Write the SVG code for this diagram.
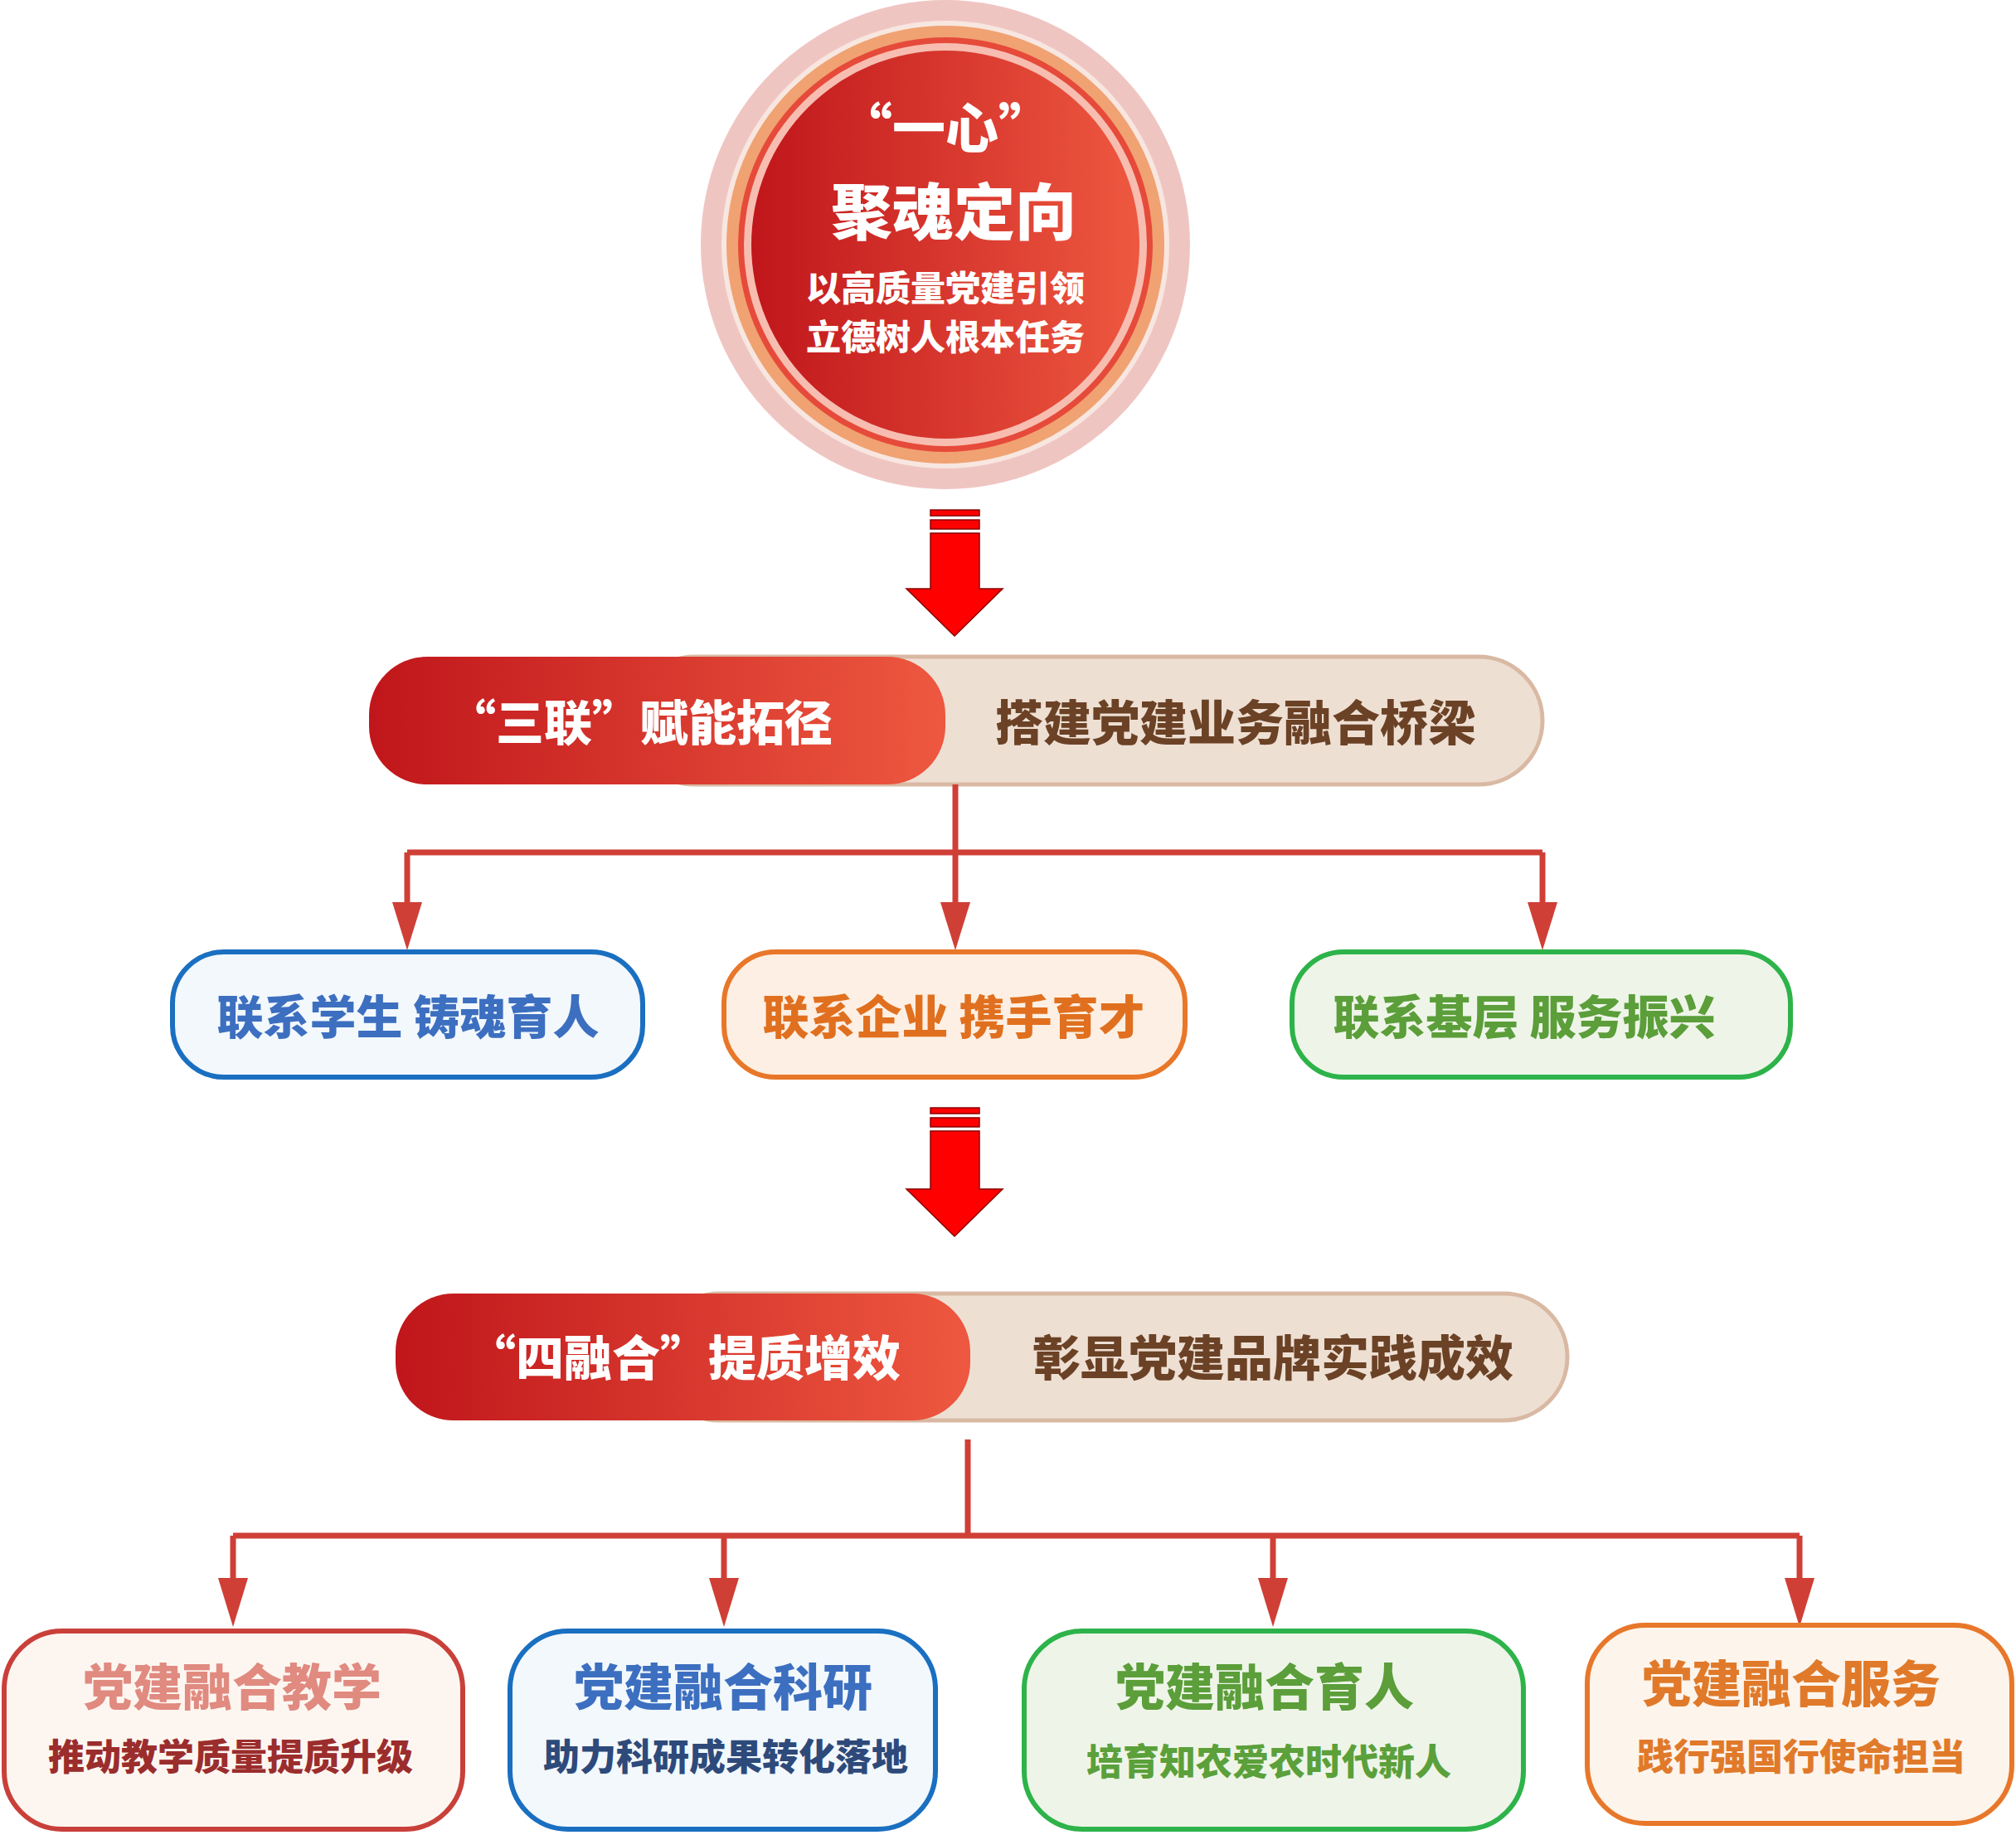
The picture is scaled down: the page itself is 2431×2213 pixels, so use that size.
<svg xmlns="http://www.w3.org/2000/svg" width="2431" height="2213" viewBox="0 0 2431 2213">
<defs>
<linearGradient id="rg" x1="0" y1="0" x2="1" y2="0"><stop offset="0" stop-color="#C0161B"/><stop offset="1" stop-color="#EE5840"/></linearGradient>
</defs>
<style>
text{font-family:"Noto Sans CJK SC","Noto Sans",sans-serif;font-weight:900;text-anchor:middle;dominant-baseline:central}
.w{fill:#fff}.br{fill:#6B4226;font-size:58px}
.con{stroke:#CF3F36;stroke-width:7;fill:none}
.hd{fill:#CF3F36}
.big{fill:#FF0000;stroke:#8B0000;stroke-width:1.5}
</style>
<rect width="2431" height="2213" fill="#fff"/>
<g id="core">
<circle cx="1140" cy="295" r="295" fill="#EFC5C2"/>
<circle cx="1140" cy="295" r="270" fill="#F8E6E0"/>
<circle cx="1140" cy="295" r="264" fill="#F0A272"/>
<circle cx="1140" cy="295" r="250" fill="#E64A3A"/>
<circle cx="1140" cy="295" r="243" fill="#F7BDB0"/>
<circle cx="1140" cy="295" r="234" fill="url(#rg)"/>
<text x="1140" y="150" class="w" font-size="64">“一心”</text>
<text x="1150" y="250" class="w" font-size="74">聚魂定向</text>
<text x="1140" y="344" class="w" font-size="42">以高质量党建引领</text>
<text x="1140" y="403" class="w" font-size="42">立德树人根本任务</text>
</g>
<g id="arrow1">
<rect x="1122" y="615" width="59" height="7" class="big"/>
<rect x="1122" y="627" width="59" height="11" class="big"/>
<polygon points="1122,643 1181,643 1181,710 1209,710 1151,767 1093,710 1122,710" class="big"/>
</g>
<g id="banner1">
<rect x="760" y="792" width="1100" height="154" rx="77" fill="#EEDFD3" stroke="#D9B9A3" stroke-width="5"/>
<rect x="445" y="792" width="695" height="154" rx="70" fill="url(#rg)"/>
<text x="772" y="868" class="w" font-size="58">“三联”赋能拓径</text>
<text x="1490" y="868" class="br">搭建党建业务融合桥梁</text>
</g>
<g id="arrow2">
<rect x="1122" y="1336" width="59" height="7" class="big"/>
<rect x="1122" y="1348" width="59" height="11" class="big"/>
<polygon points="1122,1364 1181,1364 1181,1434 1209,1434 1151,1491 1093,1434 1122,1434" class="big"/>
</g>
<g id="banner2">
<rect x="790" y="1560" width="1100" height="153" rx="77" fill="#EEDFD3" stroke="#D9B9A3" stroke-width="5"/>
<rect x="477" y="1560" width="693" height="153" rx="70" fill="url(#rg)"/>
<text x="825" y="1634" class="w" font-size="58">“四融合”提质增效</text>
<text x="1535" y="1634" class="br">彰显党建品牌实践成效</text>
</g>
<g id="connectors">
<path class="con" d="M1152,946 V1028 M491,1028 H1860 M491,1028 V1090 M1152,1028 V1090 M1860,1028 V1090"/>
<polygon class="hd" points="473,1088 509,1088 491,1146"/>
<polygon class="hd" points="1134,1088 1170,1088 1152,1146"/>
<polygon class="hd" points="1842,1088 1878,1088 1860,1146"/>
<path class="con" d="M1167,1736 V1852 M281,1852 H2170 M281,1852 V1905 M873,1852 V1905 M1535,1852 V1905 M2170,1852 V1905"/>
<polygon class="hd" points="263,1903 299,1903 281,1962"/>
<polygon class="hd" points="855,1903 891,1903 873,1962"/>
<polygon class="hd" points="1517,1903 1553,1903 1535,1962"/>
<polygon class="hd" points="2152,1903 2188,1903 2170,1962"/>
</g>
<g id="r1a"><rect x="208" y="1148" width="567" height="151" rx="62" fill="#F2F8FC" stroke="#1A6FC0" stroke-width="6"/><text x="492" y="1222" font-size="56" fill="#3D6FC0">联系学生 铸魂育人</text></g>
<g id="r1b"><rect x="873" y="1148" width="556" height="151" rx="62" fill="#FDEFE3" stroke="#E8772A" stroke-width="6"/><text x="1150" y="1222" font-size="56" fill="#E0701F">联系企业 携手育才</text></g>
<g id="r1c"><rect x="1558" y="1148" width="601" height="151" rx="62" fill="#EEF5E8" stroke="#2DB34A" stroke-width="6"/><text x="1838" y="1222" font-size="56" fill="#5B9E3A">联系基层 服务振兴</text></g>
<g id="r2a"><rect x="5" y="1967" width="553" height="239" rx="70" fill="#FDF6F0" stroke="#C9403A" stroke-width="6"/><text x="280" y="2030" font-size="60" fill="#E08A80">党建融合教学</text><text x="278" y="2116" font-size="44" fill="#9B2D2D">推动教学质量提质升级</text></g>
<g id="r2b"><rect x="615" y="1967" width="513" height="239" rx="70" fill="#F2F8FC" stroke="#1A6FC0" stroke-width="6"/><text x="872" y="2030" font-size="60" fill="#3D6FC0">党建融合科研</text><text x="875" y="2116" font-size="44" fill="#2E4A7A">助力科研成果转化落地</text></g>
<g id="r2c"><rect x="1235" y="1967" width="602" height="239" rx="70" fill="#EEF5E8" stroke="#2DB34A" stroke-width="6"/><text x="1525" y="2030" font-size="60" fill="#5B9E3A">党建融合育人</text><text x="1530" y="2122" font-size="44" fill="#5BA03A">培育知农爱农时代新人</text></g>
<g id="r2d"><rect x="1914" y="1960" width="512" height="239" rx="70" fill="#FDF4EC" stroke="#E8772A" stroke-width="6"/><text x="2160" y="2026" font-size="60" fill="#E07A2A">党建融合服务</text><text x="2172" y="2116" font-size="44" fill="#E07A2A">践行强国行使命担当</text></g>
</svg>
